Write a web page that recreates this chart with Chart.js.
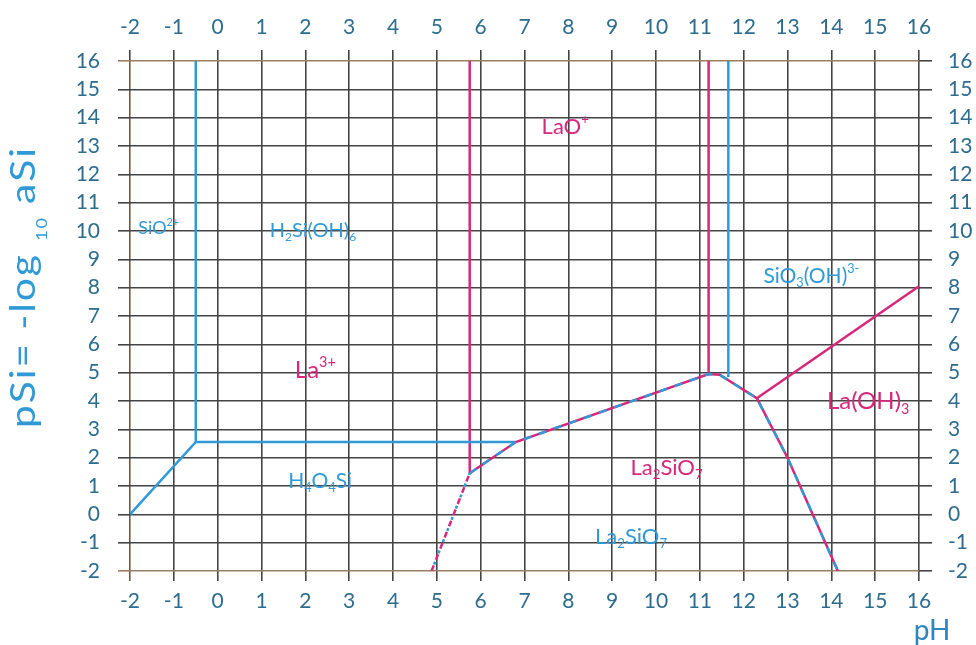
<!DOCTYPE html>
<html>
<head>
<meta charset="utf-8">
<script src="https://cdn.jsdelivr.net/npm/chart.js@4.4.0/dist/chart.umd.min.js"></script>
<style>
  html, body { margin: 0; padding: 0; background: #fff; }
  canvas { display: block; }
</style>
</head>
<body>
<canvas id="chart" width="976" height="645"></canvas>
<script>
const pHTicks = [-2, -1, 0, 1, 2, 3, 4, 5, 6, 7, 8, 9, 10, 11, 12, 13, 14, 15, 16];
const pSiTicks = [-2, -1, 0, 1, 2, 3, 4, 5, 6, 7, 8, 9, 10, 11, 12, 13, 14, 15, 16];

// boundaries as [pH, pSi]
const siO2Boundary = [[-2, 0], [-0.5, 2.55], [-0.5, 16]];
const h4o4siTop = [[-0.5, 2.55], [6.8, 2.55]];
const siO3Boundary = [[11.65, 4.85], [11.65, 16]];
const la3Boundary = [[5.75, 16], [5.75, 1.45]];
const laOBoundary = [[11.2, 16], [11.2, 4.95]];
const laOH3Boundary = [[12.3, 4.1], [16, 8.05]];
const la2SiO7Boundary = [[5.75, 1.45], [6.8, 2.55], [11.2, 4.95], [11.45, 4.93], [12.3, 4.1], [13.0, 2.0], [14.15, -2]];
const metastableBoundary = [[4.88, -2], [5.75, 1.45]];

// field names: markup, pH (left edge), pSi (text middle)
const fieldNames = ["SiO^{2+}", "H_{2}Si(OH)_{6}", "LaO^{+}", "SiO_{3}(OH)^{3-}", "La^{3+}", "La(OH)_{3}", "H_{4}O_{4}Si", "La_{2}SiO_{7}", "La_{2}SiO_{7}"];
const fieldPH = [-1.81, 1.19, 7.39, 12.45, 1.76, 13.9, 1.61, 9.42, 8.61];
const fieldPSi = [10.11, 10.06, 13.71, 8.44, 5.13, 4.03, 1.21, 1.68, -0.75];

const BLUE = "#2f9ad6";
const PINK = "#d6287a";
const TICK_TEXT = "#2c6c8e";
const GRID = "#444";
const EDGE = "#9c7f60";
const FONT = "Lato, 'Noto Sans', sans-serif";

const fieldColor = [BLUE, BLUE, PINK, BLUE, PINK, PINK, BLUE, PINK, BLUE];
const fieldSize = [18, 20, 22, 21, 24, 24, 21, 22, 22];

const pts = (arr) => arr.map(([x, y]) => ({x, y}));

function line(data, color, extra) {
    return Object.assign({
        data: pts(data),
        showLine: true,
        borderColor: color,
        borderWidth: 2.5,
        pointRadius: 0,
        fill: false,
        tension: 0,
    }, extra || {});
}

// draws "H_{2}O^{+}" style markup
function drawRich(ctx, markup, x, y, size, color) {
    const parts = [];
    const re = /([_^])\{([^}]*)\}/g;
    let last = 0, m;
    while ((m = re.exec(markup))) {
        if (m.index > last) parts.push({t: markup.slice(last, m.index), mode: ""});
        parts.push({t: m[2], mode: m[1]});
        last = re.lastIndex;
    }
    if (last < markup.length) parts.push({t: markup.slice(last), mode: ""});
    ctx.fillStyle = color;
    ctx.textBaseline = "alphabetic";
    ctx.textAlign = "left";
    let cx = x;
    for (const p of parts) {
        const s = p.mode ? size * 0.6 : size;
        ctx.font = `${s}px ${FONT}`;
        let dy = 0;
        if (p.mode === "^") dy = -size * 0.45;
        if (p.mode === "_") dy = size * 0.22;
        ctx.fillText(p.t, cx, y + dy);
        cx += ctx.measureText(p.t).width;
    }
}

// y title pieces: [text, font size, baseline shift]
const titleParts = [["pSi= -log ", 34, 0], ["10", 15, 12], [" aSi", 34, 0]];

function drawTitle(ctx) {
    const stretch = 1.2;
    const chars = [];
    for (const [t, s, dy] of titleParts) {
        ctx.font = `${s}px ${FONT}`;
        for (const ch of t) chars.push({ch, s, dy, w: ctx.measureText(ch).width * stretch});
    }
    const natural = chars.reduce((a, c) => a + c.w, 0);
    const gap = Math.max(0, (280 - natural) / (chars.length - 1));
    ctx.save();
    ctx.translate(35, 288);
    ctx.rotate(-Math.PI / 2);
    ctx.fillStyle = BLUE;
    ctx.textBaseline = "alphabetic";
    ctx.textAlign = "left";
    let cx = -(natural + gap * (chars.length - 1)) / 2;
    for (const c of chars) {
        ctx.font = `${c.s}px ${FONT}`;
        ctx.save();
        ctx.translate(cx, c.dy);
        ctx.scale(stretch, 1);
        ctx.fillText(c.ch, 0, 0);
        ctx.restore();
        cx += c.w + gap;
    }
    ctx.restore();
}

const labelsPlugin = {
    id: "fieldLabels",
    afterDatasetsDraw(chart) {
        const {ctx, scales: {x, y}} = chart;
        ctx.save();
        fieldNames.forEach((name, i) => {
            const px = x.getPixelForValue(fieldPH[i]);
            const py = y.getPixelForValue(fieldPSi[i]) + fieldSize[i] * 0.36;
            drawRich(ctx, name, px, py, fieldSize[i], fieldColor[i]);
        });
        ctx.restore();

        drawTitle(ctx);

        ctx.save();
        ctx.font = `28px ${FONT}`;
        ctx.fillStyle = "#2e86c0";
        ctx.textAlign = "center";
        ctx.textBaseline = "middle";
        ctx.fillText("pH", 932, 631);
        ctx.restore();
    },
};

const tickFont = {family: FONT, size: 21};

new Chart(document.getElementById("chart"), {
    type: "scatter",
    data: {
        datasets: [
            line(la2SiO7Boundary, BLUE, {borderDash: [8, 8], order: 0}),
            line(la2SiO7Boundary, PINK, {order: 1}),
            line(metastableBoundary, BLUE, {borderDash: [3, 9], borderDashOffset: -7, order: 0}),
            line(metastableBoundary, PINK, {borderDash: [6, 6], order: 1}),
            line(siO2Boundary, BLUE, {order: 2}),
            line(h4o4siTop, BLUE, {order: 2}),
            line(siO3Boundary, BLUE, {order: 2}),
            line(la3Boundary, PINK, {order: 2}),
            line(laOBoundary, PINK, {order: 2}),
            line(laOH3Boundary, PINK, {order: 2}),
        ],
    },
    options: {
        responsive: false,
        animation: false,
        layout: {padding: 0},
        plugins: {legend: {display: false}, tooltip: {enabled: false}},
        scales: {
            x: {
                type: "linear",
                position: "bottom",
                min: -2,
                max: 16,
                afterBuildTicks: (s) => { s.ticks = pHTicks.map((v) => ({value: v})); },
                afterFit: (s) => { s.height = 74; },
                border: {display: false},
                grid: {
                    color: (c) => (c.tick && c.tick.value === -2 ? "#6e5a47" : GRID),
                    lineWidth: 1.6,
                    tickLength: 10,
                },
                ticks: {font: tickFont, color: TICK_TEXT, padding: 8, maxRotation: 0, autoSkip: false},
            },
            x2: {
                type: "linear",
                position: "top",
                min: -2,
                max: 16,
                afterBuildTicks: (s) => { s.ticks = pHTicks.map((v) => ({value: v})); },
                afterFit: (s) => { s.height = 61; },
                border: {display: false},
                grid: {color: GRID, lineWidth: 1.6, drawOnChartArea: false, tickLength: 11},
                ticks: {font: tickFont, color: TICK_TEXT, padding: 10, maxRotation: 0, autoSkip: false},
            },
            y: {
                type: "linear",
                position: "left",
                min: -2,
                max: 16,
                afterBuildTicks: (s) => { s.ticks = pSiTicks.map((v) => ({value: v})); },
                afterFit: (s) => { s.width = 130; },
                border: {display: false},
                grid: {
                    color: (c) => (c.tick && (c.tick.value === 16 || c.tick.value === -2) ? EDGE : GRID),
                    lineWidth: 1.6,
                    tickLength: 12,
                },
                ticks: {font: tickFont, color: TICK_TEXT, padding: 18, autoSkip: false},
            },
            y2: {
                type: "linear",
                position: "right",
                min: -2,
                max: 16,
                afterBuildTicks: (s) => { s.ticks = pSiTicks.map((v) => ({value: v})); },
                afterFit: (s) => { s.width = 57; },
                border: {display: false},
                grid: {color: GRID, lineWidth: 1.6, drawOnChartArea: false, tickLength: 13},
                ticks: {font: tickFont, color: TICK_TEXT, padding: 16, autoSkip: false},
            },
        },
    },
    plugins: [labelsPlugin],
});
</script>
</body>
</html>
